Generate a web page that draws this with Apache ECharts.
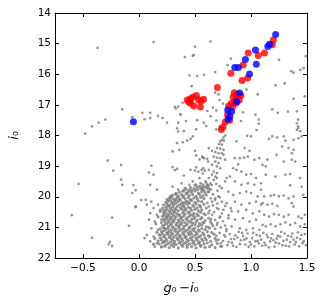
<!DOCTYPE html>
<html><head><meta charset="utf-8">
<script src="https://cdn.jsdelivr.net/npm/echarts@6/dist/echarts.min.js"></script>
<style>html,body{margin:0;padding:0;background:#fff}#c{width:324px;height:304px}</style>
</head><body><div id="c"></div>
<script>
const xTicks = [-0.5, 0, 0.5, 1, 1.5];
const yTicks = [14, 15, 16, 17, 18, 19, 20, 21, 22];

const redXY = [
1.20,14.88, 1.19,15.04, 1.12,15.31, 1.065,15.39, 0.975,15.31, 0.93,15.70, 0.82,15.97, 0.97,16.12, 0.92,16.20, 0.70,16.43,
0.431,16.84, 0.46,16.80, 0.484,16.74, 0.513,16.69, 0.46,16.95, 0.489,17.04, 0.533,16.84, 0.577,16.82, 0.554,16.88, 0.548,17.07, 0.445,16.91,
0.85,16.60, 0.875,16.65, 0.91,16.69, 0.84,16.74, 0.87,16.80, 0.895,16.84, 0.855,16.88, 0.825,16.95, 0.865,16.95, 0.80,17.04, 0.835,17.06,
0.79,17.32, 0.81,17.50, 0.77,17.56, 0.75,17.72, 0.735,17.80
];
const blueXY = [
1.22,14.70, 1.165,15.02, 1.15,15.09, 1.04,15.21, 1.047,15.67, 0.95,15.52, 0.855,15.78, 0.888,15.78, 0.987,15.99,
0.898,16.61, 0.875,16.90, 0.792,17.17, 0.827,17.22, 0.812,17.38, 0.795,17.47, -0.05,17.55
];

const grayUpper = [
-0.37,15.14, 0.13,14.95, 0.64,14.93, 0.50,15.10, 0.49,15.37, 0.41,15.44, 0.48,15.40, 0.82,15.49, 0.79,15.70, 0.68,15.93,
0.45,16.04, 0.52,16.06, 0.58,16.02, 0.47,16.39, 0.68,16.60, 0.71,16.66, 1.25,15.53, 1.49,15.41, 1.38,15.95, 1.44,15.86,
1.30,16.30, 1.22,16.36, 1.38,16.80, 0.96,16.50, 1.06,16.66, 1.19,17.15, 1.24,17.26, 1.33,17.22, 1.41,17.21, 1.42,17.48,
1.41,17.60, 1.42,17.70, 1.42,17.76, 1.41,17.82, 1.44,17.86, 1.04,17.32, 1.07,17.48, 1.07,17.61, 1.05,17.82, 0.93,17.24,
0.91,17.53, 0.72,16.84, 0.75,16.96, 0.66,17.09, 0.69,17.18, 0.61,17.20, 0.64,17.37, 0.69,17.51, 0.52,17.50, 0.42,17.53,
0.58,17.58, 0.60,17.69, 0.40,17.86, 0.51,17.80, 0.69,17.80, 0.72,17.71, 0.37,17.31, 0.39,16.93, 1.47,15.80, 1.48,16.72, 1.36,15.90,
-0.15,17.15, -0.06,17.40, 0.03,17.26, 0.10,17.26, 0.05,17.47, 0.10,17.43, 0.17,17.36, 0.21,17.43, 0.25,17.58, -0.30,17.48,
-0.36,17.58, -0.42,17.70, -0.48,17.94, 0.32,17.07, 0.33,17.12, 0.35,17.06, 0.37,17.32, 0.35,17.58, 0.34,17.77, 0.35,17.87
];

const grayLeft = [
-0.28,18.82, -0.16,18.96, -0.23,19.15, -0.54,19.58, -0.16,19.44, -0.15,19.61, -0.05,19.62, -0.03,19.79, -0.06,19.88, 0.02,20.11,
-0.03,20.34, -0.03,20.31, -0.60,20.60, -0.24,20.68, -0.09,20.95, -0.42,21.34, -0.26,21.47, -0.27,21.55, -0.24,21.61, 0.05,21.35,
0.48,18.03, 0.46,18.11, 0.43,18.17, 0.39,18.22, 0.34,18.25, 0.36,18.47, 0.30,18.52, 0.50,18.50, 0.51,18.65, 0.54,18.78,
0.57,18.72, 0.11,18.99, 0.09,19.21, 0.13,19.28, 0.30,19.03, 0.32,19.13, 0.34,19.09, 0.40,19.31, 0.46,19.12, 0.51,19.04,
0.50,19.15, 0.53,19.18, 0.56,19.12, 0.57,19.24,
0.10,19.61, 0.16,19.77, 0.06,20.10, 0.11,20.16, 0.07,20.26, 0.17,20.26, 0.13,20.37, 0.19,20.43, 0.10,20.54, 0.16,20.59,
0.22,20.48, 0.09,20.75, 0.14,20.81, 0.20,20.75, 0.25,20.65, 0.11,21.03, 0.17,21.08, 0.23,21.03, 0.07,21.25, 0.13,21.30,
0.19,21.25, 0.25,21.19, 0.10,21.46, 0.16,21.52, 0.22,21.46, 0.14,21.63, 0.20,21.63,
0.30,19.67, 0.35,19.77, 0.41,19.72, 0.48,19.50, 0.54,19.39, 0.51,19.61, 0.45,19.61, 0.38,19.56, 0.55,19.56, 0.57,19.72
];

const grayBranch = [
0.77,18.00, 0.754,18.06, 0.74,18.14, 0.725,18.19, 0.757,18.17, 0.716,18.28, 0.74,18.30, 0.696,18.41, 0.725,18.43, 0.754,18.47,
0.681,18.54, 0.71,18.58, 0.74,18.58, 0.667,18.69, 0.696,18.72, 0.725,18.74, 0.754,18.63, 0.769,18.79, 0.681,18.85, 0.71,18.90,
0.652,18.96, 0.696,19.01, 0.725,19.07, 0.623,19.12, 0.667,19.18, 0.696,19.23, 0.652,19.28, 0.681,19.34, 0.623,19.39, 0.667,19.45,
0.696,19.39, 0.594,19.50, 0.638,19.56, 0.609,19.61, 0.58,19.67, 0.623,19.72, 0.565,19.77, 0.623,18.41, 0.652,18.50, 0.565,18.69,
0.58,18.74, 0.609,18.76, 0.617,18.85, 0.574,19.07, 0.588,19.15,
0.966,18.01, 1.00,18.03, 0.87,18.19, 0.943,18.41, 0.987,18.50, 0.856,18.74, 0.90,18.74, 0.937,18.72, 0.972,18.69, 1.03,18.79,
1.074,18.74, 0.885,18.94, 0.841,19.07, 0.87,19.12, 0.914,19.18, 0.958,19.28, 1.00,19.26, 1.045,19.39, 0.812,19.34, 0.783,19.39,
0.769,19.50, 0.856,19.50, 0.914,19.61, 0.972,19.56, 1.03,19.61, 1.089,19.77, 0.74,19.72, 0.798,19.83, 0.841,19.94, 0.90,19.88,
0.958,19.83, 1.00,19.88, 1.06,19.99, 0.71,19.99, 0.681,20.05, 0.652,20.16, 0.74,20.16, 0.783,20.21, 0.856,20.16, 0.914,20.26,
0.987,20.21, 1.045,20.16, 1.089,20.26, 0.623,20.32, 0.696,20.37, 0.754,20.43, 0.827,20.48, 0.885,20.48, 0.958,20.43, 1.016,20.54,
1.074,20.48, 0.594,20.59, 0.652,20.59, 0.725,20.65, 0.798,20.70, 0.856,20.75, 0.928,20.70, 0.987,20.81, 1.045,20.75, 0.58,20.86,
0.638,20.83, 0.696,20.92, 0.769,20.94, 0.827,20.97, 0.90,21.03, 0.958,21.08, 1.016,21.03, 1.074,21.08,
0.62,19.85, 0.66,19.92, 0.70,19.80, 0.64,20.05, 0.68,20.10, 0.72,20.02, 0.61,20.20, 0.66,20.28, 0.70,20.22, 0.63,20.45,
0.67,20.50, 0.71,20.40, 0.74,20.55, 0.62,20.70, 0.68,20.76, 0.72,20.68, 0.65,20.88, 0.70,20.85, 0.75,20.80, 0.62,21.00,
0.68,21.05, 0.73,21.00, 0.78,21.06, 0.80,20.60, 0.77,20.30, 0.82,20.38, 0.60,19.55, 0.65,19.62, 0.69,19.58, 0.72,19.66
];

const grayRight = [
1.161,18.11, 1.19,18.03, 1.234,18.06, 1.292,18.03, 1.307,18.17, 1.38,18.14, 1.423,18.09, 1.452,18.03, 1.278,18.36, 1.336,18.41,
1.38,18.47, 1.365,18.58, 1.228,18.63, 1.147,18.79, 1.103,18.96, 1.132,19.01, 1.292,18.85, 1.365,18.79, 1.394,18.85, 1.132,19.28,
1.219,19.34, 1.307,19.28, 1.35,19.26, 1.438,19.39, 1.089,19.56, 1.35,19.63, 1.452,19.67, 1.118,19.99, 1.176,19.97, 1.205,19.94,
1.249,19.99, 1.292,19.96, 1.336,20.05, 1.38,19.99, 1.467,19.94, 1.103,20.21, 1.147,20.26, 1.19,20.23, 1.234,20.30, 1.365,20.21,
1.38,20.32, 1.118,20.59, 1.161,20.65, 1.205,20.57, 1.249,20.59, 1.292,20.65, 1.336,20.59, 1.423,20.65, 1.452,20.70, 1.481,20.59,
1.103,20.92, 1.132,20.97, 1.176,20.90, 1.219,20.97, 1.263,20.90, 1.307,20.84, 1.35,20.92, 1.394,20.86, 1.438,20.97, 1.481,20.90
];

const grayStrip = [
0.72,21.18, 0.75,21.45, 0.77,21.30, 0.79,21.58, 0.81,21.22, 0.83,21.50, 0.85,21.38, 0.87,21.64, 0.89,21.15, 0.91,21.42,
0.93,21.28, 0.95,21.56, 0.97,21.20, 0.99,21.48, 1.01,21.35, 1.03,21.62, 1.05,21.25, 1.07,21.52, 1.09,21.40, 1.11,21.18,
1.13,21.58, 1.15,21.32, 1.17,21.46, 1.19,21.22, 1.21,21.63, 1.23,21.37, 1.25,21.52, 1.27,21.15, 1.29,21.44, 1.31,21.60,
1.33,21.28, 1.35,21.48, 1.37,21.20, 1.39,21.56, 1.41,21.34, 1.43,21.62, 1.45,21.25, 1.47,21.45, 1.49,21.58, 0.74,21.62,
0.78,21.12, 0.82,21.38, 0.86,21.26, 0.90,21.55, 0.94,21.40, 0.98,21.63, 1.02,21.18, 1.06,21.44, 1.10,21.60, 1.14,21.24,
1.18,21.36, 1.22,21.50, 1.26,21.30, 1.30,21.20, 1.34,21.62, 1.38,21.40, 1.42,21.16, 1.46,21.52, 0.76,21.25, 0.80,21.48,
0.84,21.60, 0.88,21.33, 0.92,21.18, 0.96,21.36, 1.00,21.56, 1.04,21.45, 1.08,21.28, 1.12,21.50, 1.16,21.65, 1.20,21.42,
1.24,21.28, 1.28,21.58, 1.32,21.40, 1.36,21.30, 1.40,21.48, 1.44,21.38, 1.48,21.22, 0.71,21.40, 0.73,21.52, 0.69,21.28
];

const grayCore = [
0.50,19.62, 0.54,19.66, 0.57,19.61, 0.60,19.68, 0.52,19.69, 0.46,19.70, 0.62,19.63, 0.56,19.70,
0.42,19.75, 0.45,19.78, 0.49,19.73, 0.52,19.77, 0.55,19.74, 0.58,19.79, 0.61,19.72, 0.47,19.80, 0.40,19.79, 0.64,19.76,
0.36,19.85, 0.39,19.82, 0.42,19.88, 0.44,19.83, 0.47,19.86, 0.50,19.81, 0.53,19.88, 0.56,19.84, 0.59,19.87, 0.33,19.89, 0.62,19.82,
0.30,19.95, 0.33,19.92, 0.35,19.98, 0.38,19.93, 0.40,19.97, 0.43,19.91, 0.45,19.96, 0.48,19.93, 0.51,19.99, 0.54,19.92, 0.57,19.97, 0.28,19.99, 0.60,19.94,
0.27,20.05, 0.29,20.02, 0.31,20.08, 0.34,20.03, 0.36,20.07, 0.39,20.01, 0.41,20.06, 0.44,20.03, 0.46,20.09, 0.49,20.04, 0.52,20.07, 0.55,20.02, 0.58,20.06, 0.33,20.10, 0.25,20.09,
0.26,20.15, 0.28,20.12, 0.30,20.18, 0.32,20.13, 0.35,20.16, 0.37,20.11, 0.39,20.19, 0.42,20.14, 0.44,20.17, 0.47,20.12, 0.50,20.18, 0.53,20.14, 0.56,20.16, 0.24,20.19, 0.41,20.20,
0.25,20.24, 0.27,20.28, 0.29,20.22, 0.31,20.26, 0.33,20.21, 0.36,20.27, 0.38,20.23, 0.40,20.29, 0.43,20.24, 0.45,20.21, 0.48,20.27, 0.51,20.23, 0.54,20.28, 0.58,20.25, 0.22,20.27,
0.24,20.34, 0.26,20.31, 0.28,20.37, 0.30,20.33, 0.32,20.39, 0.34,20.32, 0.37,20.36, 0.39,20.31, 0.41,20.38, 0.44,20.34, 0.46,20.37, 0.49,20.32, 0.52,20.36, 0.55,20.33, 0.21,20.38, 0.60,20.37,
0.23,20.44, 0.25,20.41, 0.27,20.47, 0.29,20.43, 0.31,20.48, 0.33,20.42, 0.35,20.46, 0.38,20.41, 0.40,20.47, 0.42,20.43, 0.45,20.49, 0.47,20.44, 0.50,20.41, 0.53,20.46, 0.56,20.43, 0.19,20.48,
0.22,20.55, 0.24,20.52, 0.26,20.58, 0.28,20.53, 0.30,20.57, 0.32,20.51, 0.34,20.56, 0.36,20.59, 0.39,20.53, 0.41,20.57, 0.44,20.52, 0.46,20.58, 0.49,20.54, 0.52,20.57, 0.55,20.51, 0.58,20.56, 0.62,20.53,
0.21,20.64, 0.23,20.61, 0.25,20.67, 0.27,20.63, 0.29,20.68, 0.31,20.62, 0.33,20.66, 0.36,20.61, 0.38,20.67, 0.40,20.63, 0.43,20.69, 0.45,20.64, 0.48,20.61, 0.50,20.66, 0.53,20.62, 0.56,20.68, 0.17,20.66,
0.22,20.74, 0.24,20.71, 0.26,20.77, 0.28,20.72, 0.30,20.78, 0.32,20.73, 0.35,20.76, 0.37,20.71, 0.39,20.77, 0.42,20.73, 0.44,20.79, 0.47,20.74, 0.49,20.71, 0.52,20.76, 0.55,20.72, 0.59,20.78, 0.64,20.74,
0.20,20.84, 0.23,20.81, 0.25,20.87, 0.27,20.83, 0.29,20.88, 0.31,20.82, 0.34,20.86, 0.36,20.81, 0.38,20.87, 0.41,20.84, 0.43,20.89, 0.46,20.83, 0.48,20.86, 0.51,20.82, 0.54,20.88, 0.57,20.84, 0.15,20.88,
0.21,20.94, 0.23,20.91, 0.26,20.97, 0.28,20.93, 0.30,20.98, 0.33,20.92, 0.35,20.96, 0.37,20.91, 0.40,20.97, 0.42,20.93, 0.45,20.99, 0.47,20.94, 0.50,20.91, 0.53,20.96, 0.56,20.93, 0.60,20.98, 0.66,20.95,
0.19,21.04, 0.22,21.01, 0.24,21.07, 0.26,21.03, 0.29,21.08, 0.31,21.02, 0.33,21.06, 0.36,21.01, 0.38,21.07, 0.40,21.04, 0.43,21.09, 0.45,21.03, 0.48,21.06, 0.50,21.02, 0.53,21.08, 0.56,21.04, 0.59,21.07, 0.63,21.02,
0.20,21.14, 0.22,21.11, 0.25,21.17, 0.27,21.13, 0.29,21.18, 0.32,21.12, 0.34,21.16, 0.36,21.11, 0.39,21.17, 0.41,21.13, 0.44,21.19, 0.46,21.14, 0.49,21.11, 0.51,21.16, 0.54,21.12, 0.57,21.18, 0.61,21.14, 0.65,21.17, 0.16,21.16,
0.18,21.24, 0.21,21.21, 0.23,21.27, 0.26,21.23, 0.28,21.28, 0.30,21.22, 0.33,21.26, 0.35,21.21, 0.37,21.27, 0.40,21.23, 0.42,21.29, 0.45,21.24, 0.47,21.21, 0.50,21.26, 0.52,21.22, 0.55,21.28, 0.58,21.24, 0.62,21.27, 0.67,21.22,
0.19,21.34, 0.22,21.31, 0.24,21.37, 0.27,21.33, 0.29,21.38, 0.31,21.32, 0.34,21.36, 0.36,21.31, 0.38,21.37, 0.41,21.33, 0.43,21.39, 0.46,21.34, 0.48,21.31, 0.51,21.36, 0.53,21.32, 0.56,21.38, 0.59,21.34, 0.63,21.31, 0.68,21.36, 0.14,21.36,
0.17,21.44, 0.20,21.41, 0.23,21.47, 0.25,21.43, 0.28,21.48, 0.30,21.42, 0.32,21.46, 0.35,21.41, 0.37,21.47, 0.39,21.43, 0.42,21.49, 0.44,21.44, 0.47,21.41, 0.49,21.46, 0.52,21.42, 0.54,21.48, 0.57,21.44, 0.60,21.41, 0.64,21.46, 0.69,21.43,
0.18,21.54, 0.21,21.51, 0.24,21.57, 0.26,21.53, 0.29,21.58, 0.31,21.52, 0.33,21.56, 0.36,21.51, 0.38,21.57, 0.40,21.53, 0.43,21.59, 0.45,21.54, 0.48,21.51, 0.50,21.56, 0.53,21.52, 0.55,21.58, 0.58,21.54, 0.61,21.51, 0.65,21.57, 0.70,21.53, 0.13,21.55,
0.20,21.64, 0.23,21.62, 0.27,21.66, 0.31,21.63, 0.35,21.67, 0.39,21.62, 0.43,21.65, 0.47,21.63, 0.51,21.67, 0.55,21.62, 0.59,21.65, 0.63,21.63, 0.68,21.66, 0.73,21.62
];

function pairs(a){const o=[];for(let i=0;i+1<a.length;i+=2)o.push([a[i],a[i+1]]);return o;}
const grayField = [].concat(pairs(grayUpper),pairs(grayLeft),pairs(grayBranch),pairs(grayRight),pairs(grayStrip));

const FONT = 'DejaVu Sans';
const fmtX = v => (v < 0 ? '\u2212' : '') + Math.abs(v).toFixed(1);
const nameRich = {
  i: {fontFamily: FONT, fontStyle: 'italic', fontSize: 13, color: '#000'},
  s: {fontFamily: FONT, fontSize: 12, color: '#000'},
  m: {fontFamily: FONT, fontSize: 13, color: '#000'}
};
function xAx(pos, show){
  return {type:'value', position:pos, min:-0.75, max:1.5,
    axisLine:{show:true, onZero:false, lineStyle:{color:'#000', width:1}},
    axisTick:{show:true, inside:true, length:4, customValues:xTicks, lineStyle:{color:'#000'}},
    axisLabel:{show:show, customValues:xTicks, formatter:fmtX, color:'#000', fontFamily:FONT, fontSize:10.5, margin:5},
    splitLine:{show:false},
    name: show ? '{i|g}{s|\u2080}{m|\u2009\u2212}{i|i}{s|\u2080}' : '',
    nameLocation:'middle', nameGap:24, nameTextStyle:{rich:nameRich}
  };
}
function yAx(pos, show){
  return {type:'value', position:pos, min:14, max:22, inverse:true,
    axisLine:{show:true, onZero:false, lineStyle:{color:'#000', width:1}},
    axisTick:{show:true, inside:true, length:4, customValues:yTicks, lineStyle:{color:'#000'}},
    axisLabel:{show:show, customValues:yTicks, color:'#000', fontFamily:FONT, fontSize:10.5, margin:4},
    splitLine:{show:false},
    name: show ? '{i|i}{s|\u2080}' : '',
    nameLocation:'middle', nameGap:34, nameTextStyle:{rich:nameRich}
  };
}

const chart = echarts.init(document.getElementById('c'), null, {renderer:'canvas'});
chart.setOption({
  animation:false,
  backgroundColor:'#fff',
  grid:{left:49, right:17, top:13, bottom:46, show:false},
  xAxis:[xAx('bottom', true), xAx('top', false)],
  yAxis:[yAx('left', true), yAx('right', false)],
  series:[
    {type:'scatter', xAxisIndex:0, yAxisIndex:0, data:grayField, symbol:'circle', symbolSize:2.7,
     itemStyle:{color:'#7a7a7a'}, silent:true},
    {type:'scatter', xAxisIndex:0, yAxisIndex:0, data:pairs(grayCore), symbol:'circle', symbolSize:3.2,
     itemStyle:{color:'#7a7a7a'}, silent:true},
    {type:'scatter', xAxisIndex:0, yAxisIndex:0, data:pairs(redXY), symbol:'circle', symbolSize:7,
     itemStyle:{color:'#ff0000'}, silent:true},
    {type:'scatter', xAxisIndex:0, yAxisIndex:0, data:pairs(blueXY), symbol:'circle', symbolSize:7,
     itemStyle:{color:'#0000ff'}, silent:true}
  ]
});
</script></body></html>
